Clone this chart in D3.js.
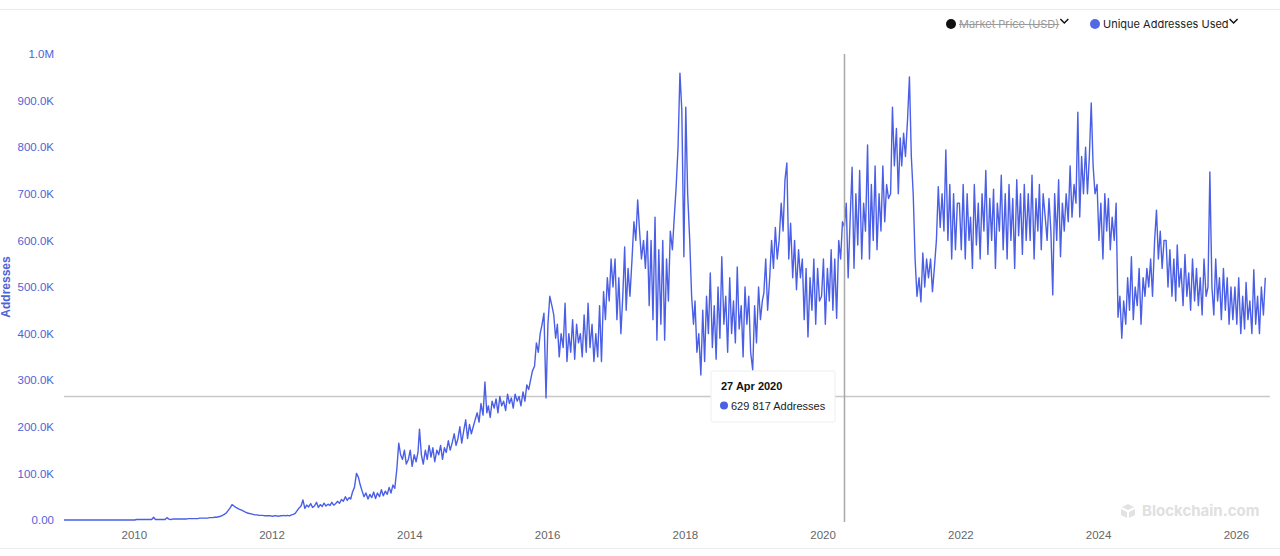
<!DOCTYPE html>
<html><head><meta charset="utf-8">
<script src="https://cdn.jsdelivr.net/npm/d3@7"></script>
<style>
html,body{margin:0;padding:0;background:#fff;}
svg{display:block;}
</style></head>
<body>
<svg id="chart" width="1280" height="556"></svg>
<script>
// Unique addresses used, in thousands, sampled on the 1st, 11th and 21st of each month
const addr2009 = [0,0,0,0,0,0,0,0,0,0,0,0,0,0,0,0,0,0,0,0,0,0,0,0,0,0,0,0,0,0,0,0,0,0,0,0];
const addr2010 = [0,0,1,1,1,1,1,1,1,1,1,6,1,1,1,1,1,1,5,2,1,2,2,2,2,2,2,2,2,3,3,3,3,3,3,4];
const addr2011 = [4,4,4,4,5,5,5,6,6,7,8,10,12,15,20,26,33,30,27,25,23,21,19,17,15,14,13,12,11,11,10,10,10,9,9,9];
const addr2012 = [9,8,9,9,8,9,9,10,9,10,9,11,12,14,20,26,30,43,25,32,28,35,27,30,38,27,33,29,36,30,34,31,38,32,35,40];
const addr2013 = [36,44,40,50,42,48,45,60,70,100,92,75,62,50,58,45,55,48,60,46,58,50,65,52,62,55,70,58,75,68,110,165,140,130,150,120];
const addr2014 = [130,150,115,140,125,145,195,140,120,150,130,160,135,155,125,150,140,160,130,155,145,170,150,165,185,160,175,200,165,190,215,175,205,185,200,215];
const addr2015 = [230,210,250,225,296,230,245,220,255,240,260,230,265,245,255,235,270,250,262,240,270,255,265,245,275,255,290,280,300,320,330,380,360,400,420,444];
const addr2016 = [262,420,480,460,440,390,420,350,400,370,465,340,400,360,430,345,420,380,400,350,440,360,465,370,420,340,400,350,460,340,490,430,520,470,560,500];
const addr2017 = [560,430,520,400,480,586,450,540,480,560,640,600,687,620,560,600,540,620,460,600,430,650,386,580,420,600,386,560,470,620,580,650,715,800,959,880];
const addr2018 = [565,886,700,600,480,420,470,360,400,311,450,340,480,400,530,370,460,345,500,390,565,420,480,360,520,400,470,380,543,410,460,350,500,420,480,360];
const addr2019 = [322,460,380,500,430,470,487,560,450,520,600,540,628,560,600,680,620,730,766,560,637,520,600,494,580,520,560,430,540,393,520,450,560,420,540,470];
const addr2020 = [480,560,420,540,470,580,450,560,433,600,560,640,630,680,520,650,757,540,700,590,750,560,680,620,805,560,720,600,760,580,700,620,760,640,720,690];
const addr2021 = [700,886,760,840,700,820,760,830,780,860,951,780,700,560,480,520,468,573,500,560,520,560,490,540,600,715,628,700,620,794,600,720,560,700,580,680];
const addr2022 = [680,580,720,560,700,600,650,540,720,590,680,560,700,620,750,570,690,600,710,540,680,620,740,580,700,560,720,600,690,540,730,610,700,570,720,600];
const addr2023 = [700,600,740,560,690,620,720,580,700,650,600,690,620,483,700,600,730,565,680,620,700,640,760,650,720,680,875,650,780,700,800,700,780,895,760,700];
const addr2024 = [720,600,680,560,700,620,690,580,650,600,680,435,480,390,470,420,520,450,565,430,500,460,540,420,520,480,540,500,560,480,600,665,560,620,540,600];
const addr2025 = [600,500,580,480,560,470,590,500,540,460,570,480,530,450,560,470,540,460,520,440,560,480,500,747,500,440,560,470,520,430,540,450,520,420,500,430];
const addr2026 = [500,420,520,400,480,410,510,430,470,400,537,420,480,400,500,440,520];

const years = [2009,2010,2011,2012,2013,2014,2015,2016,2017,2018,2019,2020,2021,2022,2023,2024,2025,2026];
const yearlyValues = [addr2009,addr2010,addr2011,addr2012,addr2013,addr2014,addr2015,addr2016,addr2017,addr2018,addr2019,addr2020,addr2021,addr2022,addr2023,addr2024,addr2025,addr2026];
const sampleDays = [1,11,21];

const yTicks = [0,100000,200000,300000,400000,500000,600000,700000,800000,900000,1000000];
const yTickLabels = ["0.00","100.0K","200.0K","300.0K","400.0K","500.0K","600.0K","700.0K","800.0K","900.0K","1.0M"];
const xTickYears = [2010,2012,2014,2016,2018,2020,2022,2024,2026];

const hoverDate = "2020-04-27";
const hoverValue = 629817;
const hoverLabel = "27 Apr 2020";
const hoverText = "629 817 Addresses";
const cursorValue = 266000;

const legendItems = [
  {name: "Market Price (USD)", color: "#111", off: true},
  {name: "Unique Addresses Used", color: "#5468e6", off: false}
];

// build series
const data = [];
years.forEach((yr, k) => {
  yearlyValues[k].forEach((v, i) => {
    data.push({date: new Date(Date.UTC(yr, Math.floor(i/3), sampleDays[i % 3])), value: v * 1000});
  });
});

const svg = d3.select("#chart");
const W = 1280, H = 556;
const pLeft = 64, pRight = 1267, pTop = 54, pBottom = 520;
const axisFont = "'Liberation Sans', Arial, sans-serif";

const x = d3.scaleUtc()
  .domain([new Date(Date.UTC(2009,0,1)), new Date(Date.UTC(2026,5,20))])
  .range([pLeft, pRight]);
const y = d3.scaleLinear().domain([0, 1000000]).range([pBottom, pTop]);

// frame lines
svg.append("line").attr("x1",0).attr("x2",W).attr("y1",9.5).attr("y2",9.5).attr("stroke","#ececec");
svg.append("line").attr("x1",0).attr("x2",W).attr("y1",548.5).attr("y2",548.5).attr("stroke","#ececec");

// watermark
const wm = svg.append("g").attr("transform","translate(1120,511)");
wm.append("path").attr("d","M8,-7 L14,-4 L8,-1 L2,-4 Z M1,-2 L7,1 L7,7 L1,4 Z M9,1 L15,-2 L15,4 L9,7 Z").attr("fill","#e2e2e2");
wm.append("text").attr("x",22).attr("y",5).text("Blockchain.com")
  .attr("font-family","Inter, 'Liberation Sans', Arial, sans-serif").attr("font-weight","700")
  .attr("font-size",15).attr("fill","#e0e0e0");

// Y axis
const yAxis = d3.axisLeft(y).tickValues(yTicks).tickSize(0).tickPadding(0)
  .tickFormat((d,i) => yTickLabels[i]);
const yg = svg.append("g").attr("transform","translate(54,0)").call(yAxis);
yg.select(".domain").remove();
yg.selectAll("text").attr("fill","#4f63d8").attr("font-size",11.5)
  .attr("font-family",axisFont).attr("dy","0.32em");

svg.append("text").attr("transform","translate(10,287) rotate(-90)")
  .attr("text-anchor","middle").attr("font-size",12).attr("font-weight","700")
  .attr("font-family",axisFont).attr("fill","#4f63d8")
  .text("Addresses");

// X axis
const xAxis = d3.axisBottom(x).tickValues(xTickYears.map(yr => new Date(Date.UTC(yr,0,1))))
  .tickSize(0).tickPadding(0).tickFormat(d3.utcFormat("%Y"));
const xg = svg.append("g").attr("transform","translate(1,531)").call(xAxis);
xg.select(".domain").remove();
xg.selectAll("text").attr("fill","#666").attr("font-size",11.5)
  .attr("font-family",axisFont);

// cursor crosshair (horizontal)
svg.append("line").attr("x1",pLeft).attr("x2",1270).attr("y1",Math.round(y(cursorValue))+0.5).attr("y2",Math.round(y(cursorValue))+0.5)
  .attr("stroke","#c8c8c8").attr("stroke-width",1.5);

// line
const line = d3.line().x(d => x(d.date)).y(d => y(d.value));
svg.append("path").datum(data).attr("d", line).attr("fill","none")
  .attr("stroke","#4a5fe6").attr("stroke-width",1.4).attr("stroke-linejoin","round");

// cursor crosshair (vertical)
const hx = x(new Date(hoverDate + "T00:00:00Z"));
svg.append("line").attr("x1",Math.round(hx)+0.5).attr("x2",Math.round(hx)+0.5).attr("y1",pTop).attr("y2",pBottom+2)
  .attr("stroke","#a8a8a8").attr("stroke-width",1.5);

// tooltip
const tt = svg.append("g").attr("transform","translate(711,371)");
tt.append("rect").attr("width",124).attr("height",51).attr("rx",2)
  .attr("fill","#fff").attr("stroke","#eeeeee");
tt.append("text").attr("x",10).attr("y",19).text(hoverLabel)
  .attr("font-family",axisFont).attr("font-size",11)
  .attr("font-weight","700").attr("fill","#111");
tt.append("circle").attr("cx",13).attr("cy",34.5).attr("r",4).attr("fill","#4a5fe6");
tt.append("text").attr("x",20).attr("y",38.5).text(hoverText)
  .attr("font-family",axisFont).attr("font-size",11).attr("fill","#222");

// legend
const lg = svg.append("g");
const lx = [951, 1095];
legendItems.forEach((it, i) => {
  const g = lg.append("g").attr("transform",`translate(${lx[i]},24)`);
  g.append("circle").attr("r",5).attr("fill",it.color);
  const t = g.append("text").attr("x",8).attr("y",4).text(it.name)
    .attr("font-family","Inter, 'Liberation Sans', Arial, sans-serif").attr("font-size",11)
    .attr("fill", it.off ? "#9a9a9a" : "#222");
  const w = t.node().getComputedTextLength();
  if (it.off) {
    g.append("line").attr("x1",8).attr("x2",8+w).attr("y1",0.5).attr("y2",0.5).attr("stroke","#9a9a9a").attr("stroke-width",1);
  }
  g.append("path").attr("d",`M${9+w},-5 L${13+w},-1 L${17+w},-5`).attr("fill","none")
    .attr("stroke","#111").attr("stroke-width",1.5);
});
</script>
</body></html>
